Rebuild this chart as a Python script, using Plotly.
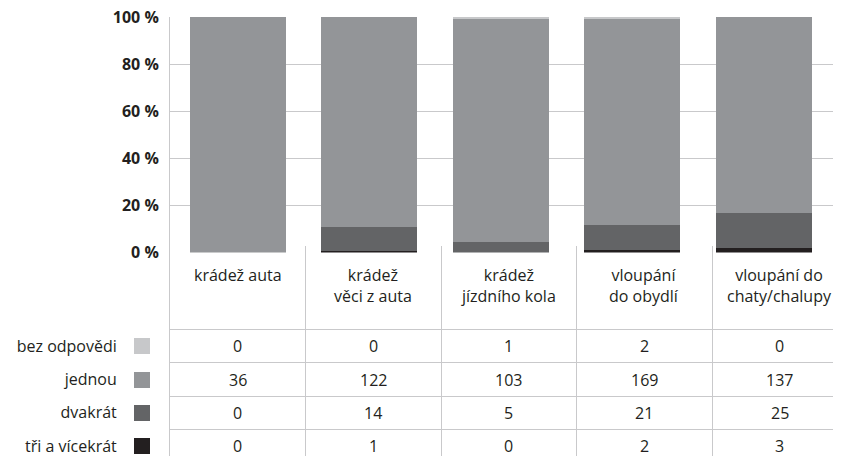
import plotly.graph_objects as go

# ---------------- data ----------------
categories = ["krádež auta", "krádež<br>věci z auta", "krádež<br>jízdního kola",
              "vloupání<br>do obydlí", "vloupání do<br>chaty/chalupy"]
series_names = ["bez odpovědi", "jednou", "dvakrát", "tři a vícekrát"]
bez_odpovedi = [0, 0, 1, 2, 0]
jednou = [36, 122, 103, 169, 137]
dvakrat = [0, 14, 5, 21, 25]
tri_a_vice = [0, 1, 0, 2, 3]
y_ticks = [0, 20, 40, 60, 80, 100]
y_tick_labels = ["0 %", "20 %", "40 %", "60 %", "80 %", "100 %"]

# ---------------- style ----------------
colors = {"bez odpovědi": "#c7c8ca", "jednou": "#939598",
          "dvakrát": "#636466", "tři a vícekrát": "#231f20"}
TEXT = "#231f20"
GRID = "#c9c9cb"
FONT = "Open Sans"
FS = 16
TRANSPARENT = "rgba(0,0,0,0)"

values = {"bez odpovědi": bez_odpovedi, "jednou": jednou,
          "dvakrát": dvakrat, "tři a vícekrát": tri_a_vice}
row_pos = {"bez odpovědi": 3, "jednou": 2, "dvakrát": 1, "tři a vícekrát": 0}
xi = list(range(len(categories)))

fig = go.Figure()

# stacked 100 % bars (bottom first)
for name in ["tři a vícekrát", "dvakrát", "jednou", "bez odpovědi"]:
    fig.add_bar(x=xi, y=values[name], name=name, marker_color=colors[name],
                marker_line_width=0, width=0.73, xaxis="x", yaxis="y",
                showlegend=False, hoverinfo="skip")

annotations = []
# legend squares beside the table rows (left of the table, in paper x)
LEGEND_X_PAPER = -0.0417
for n in series_names:
    annotations.append(dict(text=" ", x=LEGEND_X_PAPER, y=row_pos[n],
                            xref="paper", yref="y2", xanchor="center",
                            yanchor="middle", showarrow=False,
                            width=16, height=16, bgcolor=colors[n],
                            borderpad=0, borderwidth=0, font=dict(size=2)))
# header cells
HEADER_TOP = 5.15
LINE_STEP = 0.627
for i, cat in enumerate(categories):
    nlines = len(cat.split("<br>"))
    annotations.append(dict(text=cat, x=i,
                            y=HEADER_TOP - (nlines - 1) * LINE_STEP / 2,
                            xref="x2", yref="y2", yanchor="middle",
                            showarrow=False,
                            font=dict(family=FONT, size=FS, color=TEXT)))
# value cells
for n in series_names:
    for i, v in enumerate(values[n]):
        annotations.append(dict(text=str(v), x=i, y=row_pos[n], xref="x2",
                                yref="y2", showarrow=False,
                                font=dict(family=FONT, size=FS, color=TEXT)))

fig.update_layout(
    width=833, height=448,
    margin=dict(l=162, r=0, t=9, b=0, autoexpand=False),
    paper_bgcolor="white", plot_bgcolor=TRANSPARENT,
    barmode="stack", barnorm="percent", bargap=0,
    font=dict(family=FONT, size=FS, color=TEXT),
    annotations=annotations,
    xaxis=dict(domain=[0, 1], range=[-0.5175, 4.589], showticklabels=False,
               showgrid=False, zeroline=False, anchor="y", automargin=False),
    yaxis=dict(domain=[0.46355, 1], range=[0, 100.01], tickmode="array",
               tickvals=y_ticks, ticktext=y_tick_labels, showgrid=True,
               gridcolor=GRID, gridwidth=1, zeroline=False, showline=True,
               linecolor=GRID, linewidth=1, ticks="", ticklabelstandoff=7,
               ticklabeloverflow="allow",
               tickfont=dict(family=FONT, size=FS, color=TEXT, weight="bold"),
               anchor="x", automargin=False),
    xaxis2=dict(domain=[0, 1], range=[-0.5, 4.452], anchor="y2",
                tickmode="array", tickvals=[0.5, 1.5, 2.5, 3.5],
                showticklabels=False, showgrid=True, gridcolor=GRID,
                gridwidth=1, zeroline=False, ticks="", automargin=False),
    yaxis2=dict(domain=[0, 0.47836], range=[-0.301, 6.024], anchor="x2",
                tickmode="array", tickvals=[row_pos[n] for n in series_names],
                ticktext=series_names, showgrid=False, zeroline=False,
                showline=True, linecolor=GRID, linewidth=1, ticks="",
                ticklabelstandoff=49, automargin=False,
                ticklabeloverflow="allow",
                tickfont=dict(family=FONT, size=FS, color=TEXT),
                minor=dict(tickmode="array", tickvals=[0.5, 1.5, 2.5, 3.5],
                           showgrid=True, gridcolor=GRID, gridwidth=1,
                           ticks="")),
)

fig.write_html("out.html")
